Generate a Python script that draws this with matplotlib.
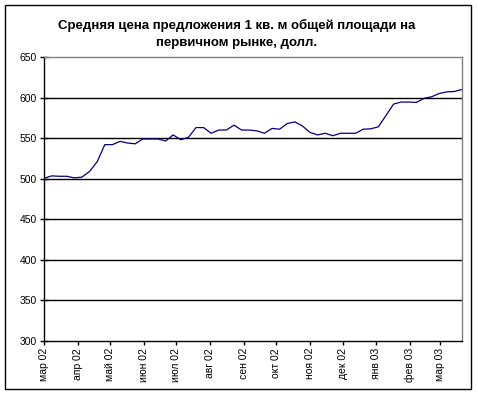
import numpy as np
import pandas as pd
import matplotlib
matplotlib.use("Agg")
import matplotlib.pyplot as plt
from matplotlib.patches import Rectangle

plt.rcParams['font.family'] = ['Liberation Sans', 'DejaVu Sans']

# weekly prices, starting 1 March 2002
prices = [500.5, 503.5, 503, 503, 501, 502, 509, 521, 542, 542,
          546, 544, 543, 549, 549, 549, 546.5, 554, 548, 551,
          563, 563, 556, 560, 560, 566, 560, 560, 559, 556,
          562, 561, 568, 570, 565, 557, 554, 556, 553, 556,
          556, 556, 561, 561.5, 564, 578, 592, 594.5, 594.5, 594,
          599, 601, 605, 607, 607.5, 610]
month_labels = ['мар 02', 'апр 02', 'май 02', 'июн 02', 'июл 02', 'авг 02',
                'сен 02', 'окт 02', 'ноя 02', 'дек 02', 'янв 03', 'фев 03', 'мар 03']

start = pd.Timestamp('2002-03-01')
dates = pd.date_range(start, periods=len(prices), freq='7D')
days = (dates - start).days.values
month_pos = (pd.date_range(start, periods=len(month_labels), freq='MS') - start).days.values

fig = plt.figure(figsize=(4.78, 3.94), dpi=100)
fig.patches.append(Rectangle((5/478, 1-389/394), 466/478, 384/394,
                             transform=fig.transFigure, fill=False,
                             edgecolor='black', linewidth=1))

ax = fig.add_axes([44/478, 1-341/394, 418/478, 284/394])
ax.plot(days, prices, color='#000080', linewidth=0.9)

ax.set_ylim(300, 650)
ax.set_xlim(0, days[-1])
ax.set_yticks(np.arange(300, 651, 50))
ax.set_xticks(month_pos)
ax.set_xticklabels(month_labels, rotation=90)
for v in range(350, 650, 50):
    ax.axhline(v, color='black', linewidth=1, zorder=0)

ax.tick_params(axis='y', direction='inout', length=6, width=1, labelsize=7.5, pad=2)
ax.tick_params(axis='x', direction='out', length=3, width=1, labelsize=7.5, pad=2)
ax.spines['top'].set_color('#808080')
ax.spines['right'].set_color('#808080')
for s in ax.spines.values():
    s.set_linewidth(1)

fig.text(237/478, 1-25/394, 'Средняя цена предложения 1 кв. м общей площади на',
         ha='center', va='center', fontsize=9.5, fontweight='bold')
fig.text(237/478, 1-43/394, 'первичном рынке, долл.',
         ha='center', va='center', fontsize=9.5, fontweight='bold')

fig.savefig('out.png', dpi=100)
